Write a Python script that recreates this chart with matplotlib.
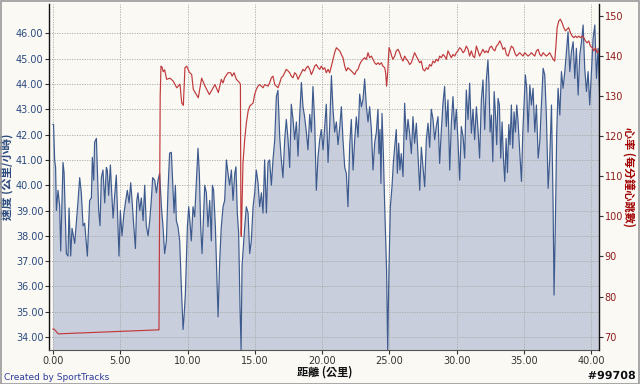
import matplotlib
matplotlib.use("Agg")
import matplotlib.pyplot as plt
from matplotlib.patches import Rectangle
import matplotlib.patheffects as pe

plt.rcParams['font.family'] = ['DejaVu Sans']
CJK = ['Noto Sans CJK TC', 'DejaVu Sans']

# ---- data: speed (km/h) vs distance (km) ----
speed_km = [0.00, 0.05, 0.13, 0.20, 0.26, 0.38, 0.50, 0.58, 0.75, 0.83, 1.00, 1.12, 1.20, 1.32, 1.42, 1.49,
            1.62, 1.74, 1.87, 1.99, 2.11, 2.24, 2.36, 2.56, 2.73, 2.86, 2.93, 3.03, 3.10, 3.23, 3.30, 3.40,
            3.50, 3.60, 3.72, 3.85, 3.97, 4.04, 4.14, 4.27, 4.34, 4.47, 4.59, 4.71, 4.84, 4.91, 5.01, 5.13,
            5.28, 5.41, 5.53, 5.66, 5.78, 5.88, 5.98, 6.13, 6.23, 6.32, 6.45, 6.57, 6.70, 6.82, 6.94, 7.07,
            7.19, 7.31, 7.41, 7.56, 7.69, 7.81,
            7.93, 8.06, 8.18, 8.30, 8.43, 8.55, 8.67, 8.80, 8.92, 9.00, 9.10, 9.17, 9.29, 9.42, 9.54, 9.67,
            9.74, 9.84, 9.99, 10.09, 10.19, 10.28, 10.41, 10.53, 10.66, 10.78, 10.88, 10.98, 11.08, 11.18,
            11.28, 11.40, 11.52, 11.65, 11.77, 11.85, 11.94, 12.07, 12.17, 12.27, 12.39, 12.51, 12.64, 12.76,
            12.89, 13.01, 13.13, 13.26, 13.38, 13.51, 13.60, 13.70, 13.80, 13.90, 13.98, 14.05, 14.15, 14.25,
            14.37, 14.50, 14.62, 14.74, 14.87, 14.99, 15.11, 15.24, 15.36, 15.49, 15.61, 15.73, 15.86, 15.98,
            16.10, 16.23, 16.35, 16.48, 16.60, 16.72, 16.85, 16.97, 17.09, 17.22, 17.34, 17.47, 17.59, 17.71,
            17.84, 17.96, 18.09, 18.21, 18.33, 18.46, 18.58, 18.70, 18.83, 18.95, 19.08, 19.20, 19.32, 19.45,
            19.57, 19.70, 19.82, 19.94, 20.07, 20.19, 20.31, 20.44, 20.56, 20.69, 20.81, 20.93, 21.06, 21.18,
            21.31, 21.43, 21.55, 21.68, 21.80, 21.92, 22.05, 22.17, 22.30, 22.42, 22.54, 22.67, 22.79, 22.92,
            23.04, 23.16, 23.29, 23.41, 23.53, 23.66, 23.78, 23.91, 24.03,
            24.15, 24.22, 24.30, 24.37, 24.45, 24.55, 24.65, 24.79, 24.87, 24.97, 25.07, 25.19, 25.29, 25.39,
            25.51, 25.59, 25.69, 25.78, 25.88, 26.01, 26.13, 26.26, 26.38, 26.50, 26.63, 26.75, 26.87, 27.00,
            27.12, 27.25, 27.37, 27.49, 27.62, 27.74, 27.87, 27.99, 28.11, 28.24, 28.36, 28.48, 28.61, 28.73,
            28.86, 28.98, 29.10, 29.23, 29.35, 29.48, 29.60, 29.72, 29.85, 29.97, 30.09, 30.22, 30.34, 30.47,
            30.59, 30.71, 30.84, 30.96, 31.09, 31.21, 31.33, 31.46, 31.58, 31.70, 31.83, 31.95, 32.08, 32.20,
            32.32,
            32.40, 32.48, 32.58, 32.68, 32.78, 32.87, 32.97, 33.07, 33.17, 33.27, 33.37, 33.47, 33.57, 33.67,
            33.77, 33.87, 33.96, 34.06, 34.16, 34.26, 34.36, 34.46, 34.56, 34.68, 34.81, 34.91, 35.00, 35.10,
            35.20, 35.30, 35.43, 35.55, 35.67, 35.80, 35.92, 36.05, 36.17, 36.29, 36.42, 36.54, 36.66, 36.79,
            36.91, 37.04, 37.16, 37.23, 37.33, 37.43, 37.53, 37.66, 37.78, 37.90, 38.03, 38.15, 38.27, 38.40,
            38.52, 38.65, 38.77, 38.89, 39.02, 39.14, 39.27, 39.39, 39.51, 39.64, 39.76, 39.88, 40.01, 40.13,
            40.26, 40.38, 40.50, 40.63]
speed_val = [42.4, 42.4, 41.0, 40.7, 39.0, 39.8, 39.2, 37.4, 40.9, 40.5, 37.3, 37.2, 39.1, 37.2, 38.3, 38.1,
             37.7, 38.5, 39.4, 40.3, 39.7, 38.4, 38.5, 37.2, 39.4, 39.5, 41.1, 40.2, 41.7, 41.85, 40.7, 39.0,
             38.4, 40.3, 40.6, 39.3, 40.7, 40.6, 39.6, 40.8, 40.0, 38.7, 39.6, 40.4, 38.4, 37.2, 39.0, 38.0,
             38.9, 39.4, 39.8, 39.3, 40.1, 39.4, 38.6, 37.5, 39.4, 39.7, 39.0, 39.5, 38.6, 40.0, 38.4, 38.0,
             38.6, 39.4, 40.3, 40.2, 39.7, 40.2,
             40.47, 39.15, 38.36, 37.3, 37.8, 39.8, 41.27, 41.3, 39.8, 38.9, 40.0, 38.6, 38.36, 37.8, 36.0, 34.3,
             34.8, 35.7, 38.36, 39.15, 38.5, 37.8, 39.15, 38.75, 40.2, 41.46, 40.47, 38.36, 37.3, 38.6,
             40.0, 39.7, 38.36, 39.4, 37.8, 40.0, 39.8, 38.36, 36.65, 34.8, 37.0, 38.36, 39.15, 39.4,
             41.0, 40.47, 40.0, 40.6, 39.4, 40.47, 40.73, 38.9, 38.1, 35.2, 33.5, 36.8, 37.6, 38.36,
             39.15, 38.9, 37.3, 37.8, 39.15, 39.7, 40.6, 40.1, 39.15, 39.7, 38.9, 41.0, 38.9, 40.9,
             41.0, 40.0, 41.0, 41.8, 43.5, 43.75, 41.9, 41.0, 40.3, 41.8, 42.6, 41.8, 40.7, 43.2,
             42.6, 41.8, 42.5, 41.15, 42.7, 44.06, 43.1, 42.7, 42.1, 41.4, 42.8, 42.1, 43.9, 42.5,
             39.8, 41.15, 41.8, 42.2, 41.4, 42.3, 43.2, 40.9, 42.3, 44.33, 43.0, 42.1, 42.5, 41.6,
             42.3, 43.1, 41.8, 40.7, 40.47, 39.15, 41.6, 42.6, 40.6, 41.8, 42.7, 41.9, 43.6, 43.1,
             43.4, 44.2, 43.1, 42.5, 43.1, 42.2, 40.6, 41.7, 42.1,
             43.0, 41.25, 42.2, 40.07, 42.84, 41.25, 39.15, 36.65, 33.5, 36.8, 39.15, 39.94, 40.86, 41.5,
             42.2, 40.47, 41.66, 40.6, 41.25, 40.34, 43.24, 41.8, 42.6, 42.06, 41.25, 42.71, 41.66, 42.45,
             41.25, 39.8, 41.5, 40.73, 39.94, 41.8, 42.45, 41.5, 43.0, 42.6, 41.8, 42.32, 42.71, 40.86,
             42.2, 43.24, 43.9, 42.32, 43.37, 40.6, 42.45, 43.5, 42.2, 43.0, 41.8, 40.2, 42.32, 41.93,
             41.07, 43.76, 42.6, 44.03, 42.06, 43.0, 41.8, 43.1, 42.2, 41.07, 43.37, 44.16, 42.2, 44.16,
             44.95,
             43.96, 42.1, 42.77, 40.93, 43.7, 42.9, 41.6, 43.43, 43.17, 41.07, 42.5, 41.07, 40.15, 41.85,
             40.5, 42.4, 41.6, 43.17, 41.46, 42.9, 42.1, 43.17, 42.5, 41.33, 40.15, 42.1, 43.17, 44.36,
             43.83, 42.1, 43.96, 43.17, 43.83, 42.1, 43.17, 41.07, 41.72, 43.17, 44.62, 44.36, 42.77, 39.88,
             41.07, 43.17, 39.22, 35.66, 38.56, 42.1, 43.83, 42.77, 44.49, 43.83, 44.49, 45.27, 46.06, 44.49,
             45.27, 45.67, 44.22, 45.41, 43.56, 45.14, 45.67, 46.33, 44.62, 43.7, 44.49, 43.17, 44.49, 45.8,
             46.33, 44.22, 45.41, 43.3]

# ---- data: heart rate (bpm) vs distance (km) ----
hr_km = [0.00, 0.08, 0.40, 7.88, 7.97, 8.03, 8.10, 8.20, 8.30, 8.45, 8.70, 8.94, 9.20, 9.44, 9.57, 9.69,
         9.81, 9.94, 10.13, 10.31, 10.43, 10.80, 11.05, 11.30, 11.62, 12.04, 12.29, 12.51, 12.64, 12.76,
         13.01, 13.21, 13.31, 13.46, 13.63, 13.75, 13.88, 13.93, 13.97, 14.00, 14.12, 14.25, 14.37, 14.50,
         14.62, 14.87, 14.99, 15.11, 15.24, 15.36, 15.49, 15.61, 15.73, 15.98,
         16.10, 16.23, 16.35, 16.48, 16.60, 16.72, 16.85, 16.97, 17.09, 17.22, 17.34, 17.47, 17.59, 17.71,
         17.84, 17.96, 18.09, 18.21, 18.33, 18.46, 18.58, 18.70, 18.83, 18.95, 19.08, 19.20, 19.32, 19.45,
         19.57, 19.70, 19.82, 19.94, 20.07, 20.19, 20.31, 20.44, 20.56, 20.69, 20.81, 20.93, 21.06, 21.18,
         21.31, 21.43, 21.55, 21.68, 21.80, 21.92, 22.05, 22.17, 22.30, 22.42, 22.54, 22.67, 22.79, 22.92,
         23.04, 23.16, 23.29, 23.41, 23.53, 23.66, 23.78, 23.91, 24.03,
         24.15, 24.27, 24.40, 24.52, 24.65, 24.72, 24.79, 24.87, 24.97, 25.07, 25.17, 25.26, 25.39, 25.51,
         25.64, 25.76, 25.88, 26.01, 26.13, 26.26, 26.38, 26.50, 26.63, 26.75, 26.87, 27.00, 27.12, 27.25,
         27.37, 27.49, 27.62, 27.74, 27.87, 27.99, 28.11, 28.24, 28.36, 28.48, 28.61, 28.73, 28.86, 28.98,
         29.10, 29.23, 29.35, 29.48, 29.60, 29.72, 29.85, 29.97, 30.09, 30.22, 30.34, 30.47, 30.59, 30.71,
         30.84, 30.96, 31.09, 31.21, 31.33, 31.46, 31.58, 31.70, 31.83, 31.95, 32.08, 32.20,
         32.33, 32.45, 32.58, 32.70, 32.83, 32.95, 33.07, 33.20, 33.32, 33.44, 33.57, 33.69, 33.82, 33.94,
         34.06, 34.19, 34.31, 34.44, 34.56, 34.68, 34.81, 34.93, 35.05, 35.18, 35.30, 35.43, 35.55, 35.67,
         35.80, 35.92, 36.05, 36.17, 36.29, 36.42, 36.54, 36.66, 36.79, 36.91, 37.04, 37.16, 37.28, 37.36,
         37.46, 37.58, 37.70, 37.83, 37.95, 38.08, 38.20, 38.32, 38.45, 38.57, 38.70, 38.82, 38.94, 39.07,
         39.19, 39.32, 39.44, 39.56, 39.69, 39.81, 39.93, 40.06, 40.18, 40.31, 40.43, 40.55, 40.65]
hr_val = [71.9, 71.9, 70.7, 71.7, 130.0, 137.5, 137.3, 136.1, 136.6, 134.2, 134.5, 133.75, 132.1, 133.0, 128.3, 127.7,
          137.1, 137.5, 136.0, 135.4, 131.7, 129.6, 134.5, 132.5, 130.4, 132.9, 130.9, 134.2, 133.3, 134.6,
          135.85, 135.85, 135.0, 135.85, 134.2, 133.8, 133.3, 133.0, 96.0, 95.0, 113.3, 119.2, 123.3, 126.2,
          127.5, 128.3, 130.4, 131.7, 132.5, 132.9, 132.5, 132.1, 132.9, 132.5,
          133.3, 134.6, 135.0, 132.9, 132.5, 132.1, 133.3, 134.6, 135.0, 135.85, 136.7, 136.3, 135.85, 135.0,
          134.6, 135.85, 135.4, 134.2, 135.0, 135.85, 136.7, 136.3, 137.1, 137.5, 136.7, 135.4, 136.3, 137.5,
          137.9, 137.1, 136.7, 137.5, 136.7, 137.1, 135.85, 136.7, 135.85, 137.5, 139.2, 140.85, 142.1, 141.7,
          141.3, 140.4, 139.6, 137.5, 136.3, 137.1, 136.7, 136.3, 135.85, 135.4, 136.3, 136.7, 137.9, 138.75,
          139.2, 139.6, 139.2, 140.85, 139.6, 140.0, 139.2, 138.3, 137.9,
          138.35, 137.9, 138.35, 137.5, 137.1, 135.8, 132.5, 135.8, 142.1, 141.3, 140.0, 139.2, 140.0, 141.3,
          141.7, 140.85, 139.6, 138.75, 140.0, 139.2, 138.75, 137.9, 138.35, 139.6, 140.85, 140.0, 139.2, 138.35,
          138.75, 136.7, 136.3, 137.1, 136.7, 137.9, 137.5, 138.75, 138.35, 139.2, 138.75, 140.0, 139.6, 140.4,
          140.0, 139.2, 141.3, 140.4, 139.6, 140.4, 140.0, 140.85, 141.3, 142.1, 141.7, 140.85, 141.3, 142.5,
          141.7, 140.0, 141.3, 140.0, 139.6, 142.5, 141.3, 140.0, 140.85, 141.7, 140.85, 141.3,
          140.85, 142.1, 142.5, 141.7, 141.3, 142.5, 142.9, 143.8, 142.9, 141.7, 142.1, 140.4, 140.0, 141.3,
          142.5, 142.1, 140.85, 140.0, 140.4, 140.85, 140.4, 140.0, 140.85, 140.4, 140.0, 140.4, 140.85, 140.4,
          140.0, 141.3, 141.7, 140.4, 140.0, 140.85, 140.4, 140.0, 140.4, 140.85, 140.0, 139.2, 138.75, 142.1,
          147.1, 148.75, 149.2, 148.3, 147.1, 146.3, 146.7, 147.1, 145.8, 145.0, 144.6, 145.0, 144.6, 145.0,
          144.6, 145.0, 144.6, 143.8, 143.3, 143.8, 142.5, 142.1, 141.3, 142.1, 140.85, 141.3, 141.7]

x_ticks = [0, 5, 10, 15, 20, 25, 30, 35, 40]
speed_ticks = [34, 35, 36, 37, 38, 39, 40, 41, 42, 43, 44, 45, 46]
hr_ticks = [70, 80, 90, 100, 110, 120, 130, 140, 150]

x_label = "距離 (公里)"
speed_label = "速度 (公里/小時)"
hr_label = "心率 (每分鐘心跳數)"

# ---- style ----
BG = "#FAF9F4"
SPEED_LINE = "#3D5A8E"
SPEED_FILL = "#C8CEDB"
HR_LINE = "#C0393B"
SPEED_TXT = "#2B4A7E"
HR_TXT = "#8E1B1B"

fig = plt.figure(figsize=(6.4, 3.84), dpi=100, facecolor=BG)
ax = fig.add_axes([49 / 640, 1 - 350 / 384, 550 / 640, 346 / 384])
ax.set_facecolor(BG)

ax.fill_between(speed_km, speed_val, 30, color=SPEED_FILL, lw=0, zorder=1)
ax.plot(speed_km, speed_val, color=SPEED_LINE, lw=0.85, zorder=2)

ax.set_xlim(-0.29, 40.57)
ax.set_ylim(33.49, 47.16)
ax.set_xticks(x_ticks)
ax.set_xticklabels([f"{v:.2f}" for v in x_ticks])
ax.set_yticks(speed_ticks)
ax.set_yticklabels([f"{v:.2f}" for v in speed_ticks])
ax.grid(True, color="#A8A8A8", ls=(0, (1.5, 1.5)), lw=0.6)
for gl in ax.get_xgridlines() + ax.get_ygridlines():
    gl.set_zorder(1.5)

ax.tick_params(axis='y', colors="#333333", labelcolor=SPEED_TXT, labelsize=7, length=3, width=0.8, pad=1)
ax.tick_params(axis='x', colors="#333333", labelcolor="#333333", labelsize=7, length=3, width=0.8, pad=1.5)
ax.spines['top'].set_visible(False)
ax.spines['right'].set_visible(False)
ax.spines['left'].set_color("#111111")
ax.spines['bottom'].set_color("#555555")
ax.spines['left'].set_linewidth(1.0)
ax.set_ylabel(speed_label, family=CJK, fontsize=8.5, color=SPEED_TXT, fontweight='bold', labelpad=2)

ax2 = ax.twinx()
ax2.plot(hr_km, hr_val, color=HR_LINE, lw=0.85, zorder=3)
ax2.set_ylim(66.67, 153.0)
ax2.set_yticks(hr_ticks)
ax2.set_yticklabels([str(v) for v in hr_ticks])
ax2.tick_params(axis='y', colors="#333333", labelcolor=HR_TXT, labelsize=7, length=3, width=0.8, pad=1)
for s in ['top', 'left', 'bottom']:
    ax2.spines[s].set_visible(False)
ax2.spines['right'].set_color("#111111")
ax2.spines['right'].set_linewidth(1.0)
ax2.set_ylabel(hr_label, family=CJK, fontsize=8, color="#A00000", fontweight='bold',
               rotation=270, labelpad=9)

fig.text(325 / 640, 1 - 372 / 384, x_label, family=CJK, fontsize=8, fontweight='bold',
         color="#111111", ha='center', va='center')
fig.text(4 / 640, 1 - 377 / 384, "Created by SportTracks", fontsize=6.5, color="#2E3B9A",
         ha='left', va='center')
fig.text(636 / 640, 1 - 376 / 384, "#99708", fontsize=8, fontweight='bold', color="#111111",
         ha='right', va='center',
         path_effects=[pe.withStroke(linewidth=2, foreground="white")])

fig.patches.append(Rectangle((0.001, 0.001), 0.998, 0.997, transform=fig.transFigure,
                             fill=False, edgecolor="#9A9A9A", lw=1.2))

fig.savefig("out.png", dpi=100, facecolor=BG)
